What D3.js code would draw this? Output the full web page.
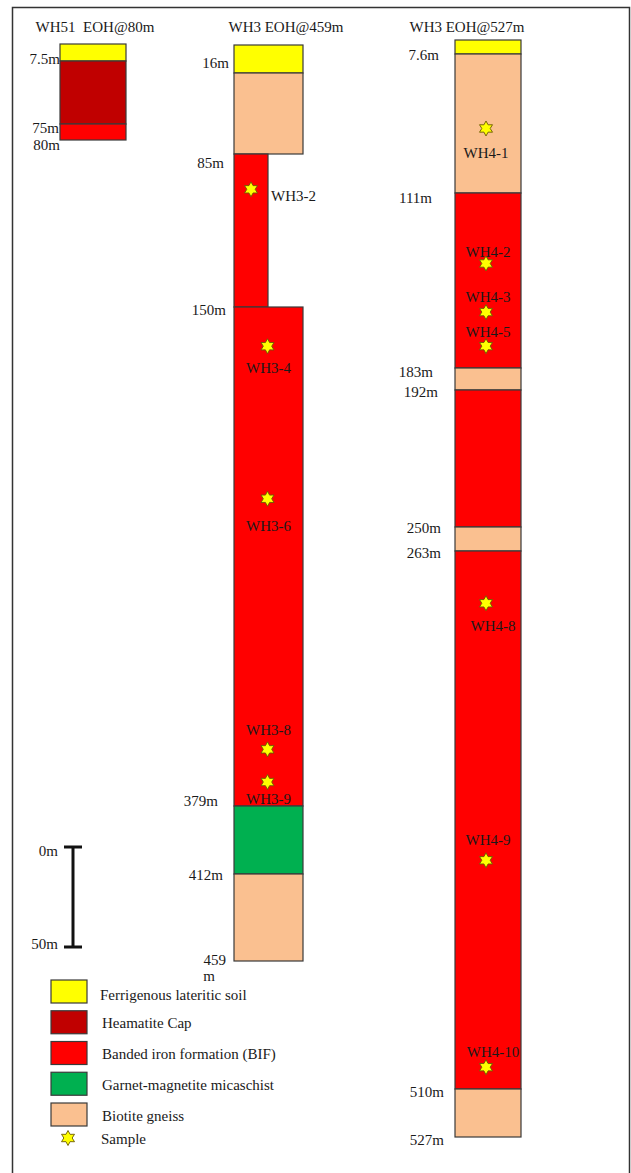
<!DOCTYPE html>
<html><head><meta charset="utf-8">
<script src="https://cdn.jsdelivr.net/npm/d3@7"></script>
<style>
body{margin:0;background:#fff}
svg{display:block}
text{font-family:"Liberation Serif","Times New Roman",serif;font-size:15px;fill:#1a1a1a;white-space:pre}
</style>
</head><body>
<svg id="c" width="631" height="1173"></svg>
<script>
// ---------------- DATA ----------------
const unitKeys  = ["soil","cap","bif","schist","gneiss"];
const unitNames = ["Ferrigenous lateritic soil","Heamatite Cap","Banded iron formation (BIF)","Garnet-magnetite micaschist","Biotite gneiss"];
const sampleLegend = "Sample";

const col1Title  = "WH51  EOH@80m";
const col1Depths = [0, 7.5, 75, 80];
const col1Units  = ["soil","cap","bif"];
const col1LabelDepths = [7.5, 75, 80];
const col1Labels = ["7.5m","75m","80m"];

const col2Title  = "WH3 EOH@459m";
const col2Depths = [0, 16, 85, 150, 379, 412, 459];
const col2Units  = ["soil","gneiss","bif","bif","schist","gneiss"];
const col2LabelDepths = [16, 85, 150, 379, 412, 459];
const col2Labels = ["16m","85m","150m","379m","412m","459"];
const col2Samples = ["WH3-2","WH3-4","WH3-6","WH3-8","WH3-9"];
const col2SampleDepths = [100, 168, 238, 353, 368];

const col3Title  = "WH3 EOH@527m";
const col3Depths = [0, 7.6, 111, 183, 192, 250, 263, 510, 527];
const col3Units  = ["soil","gneiss","bif","gneiss","bif","gneiss","bif","gneiss"];
const col3LabelDepths = [7.6, 111, 183, 192, 250, 263, 510, 527];
const col3Labels = ["7.6m","111m","183m","192m","250m","263m","510m","527m"];
const col3Samples = ["WH4-1","WH4-2","WH4-3","WH4-5","WH4-8","WH4-9","WH4-10"];
const col3SampleDepths = [63, 140, 160, 174, 287, 405, 500];

const scaleBarDepths = [0, 50];
const scaleBarLabels = ["0m","50m"];

// ---------------- STYLE / LAYOUT ----------------
const unitColor = {soil:"#FFFF00",cap:"#C00000",bif:"#FF0000",schist:"#00B050",gneiss:"#FAC090"};
const strokeCol = "#3a3a3a";

// columns are drawn not-to-scale: piecewise depth -> pixel mapping
const layout = [
  {title:col1Title, titleX:95, x0:60, x1:126, yRange:[44,61,124,140],
   depths:col1Depths, units:col1Units, narrow:[], labelDepths:col1LabelDepths, labels:col1Labels,
   labelEnd:[60,59,60], labelDy:[-2,4,5], samples:[], sampleDepths:[], sOff:[]},
  {title:col2Title, titleX:286, x0:234, x1:303, narrowX1:268, yRange:[45,73,154,307,806,874,961],
   depths:col2Depths, units:col2Units, narrow:[2], labelDepths:col2LabelDepths, labels:col2Labels,
   labelEnd:[229,224,226,218,223,226], labelDy:[-10,9,3,-5,1,-1],
   samples:col2Samples, sampleDepths:col2SampleDepths,
   sOff:[{dx:20,dy:7,a:"start"},{dx:0,dy:22,a:"middle"},{dx:0,dy:27,a:"middle"},{dx:0,dy:-19,a:"middle"},{dx:0,dy:17,a:"middle"}]},
  {title:col3Title, titleX:467, x0:455, x1:521, yRange:[40,54,193,368,390,527,551,1089,1137],
   depths:col3Depths, units:col3Units, narrow:[], labelDepths:col3LabelDepths, labels:col3Labels,
   labelEnd:[439,432,433,438,441,441,444,444], labelDy:[1,5,4,2,1,2,3,3],
   samples:col3Samples, sampleDepths:col3SampleDepths,
   sOff:[{dx:-2,dy:25,a:"middle"},{dx:0,dy:-11,a:"middle"},{dx:0,dy:-15,a:"middle"},{dx:0,dy:-14,a:"middle"},
         {dx:5,dy:23,a:"middle"},{dx:0,dy:-20,a:"middle"},{dx:5,dy:-15,a:"middle"}]}
];

const svg = d3.select("#c");

// frame
svg.append("rect").attr("x",12.5).attr("y",7.5).attr("width",617).attr("height",1170)
  .attr("fill","none").attr("stroke","#333").attr("stroke-width",1.5);

// 6-pointed star path
function hexStar(R, r){
  const pts = d3.range(12).map(i=>{
    const ang = -Math.PI/2 + i*Math.PI/6;
    const rad = i%2===0 ? R : r;
    return [rad*Math.cos(ang), rad*Math.sin(ang)];
  });
  return "M"+pts.map(p=>p[0].toFixed(2)+","+p[1].toFixed(2)).join("L")+"Z";
}
const starPath = hexStar(7.5, 4.2);

layout.forEach(col=>{
  const y = d3.scaleLinear().domain(col.depths).range(col.yRange);
  const g = svg.append("g");
  g.append("text").attr("x",col.titleX).attr("y",27).attr("text-anchor","middle")
    .attr("dominant-baseline","central").text(col.title);
  const segs = col.units.map((u,i)=>({u, top:col.depths[i], bot:col.depths[i+1], narrow:col.narrow.includes(i)}));
  g.selectAll("rect.layer").data(segs).join("rect").attr("class","layer")
    .attr("x",col.x0)
    .attr("y",d=>y(d.top))
    .attr("width",d=>(d.narrow?col.narrowX1:col.x1)-col.x0)
    .attr("height",d=>y(d.bot)-y(d.top))
    .attr("fill",d=>unitColor[d.u])
    .attr("stroke",strokeCol).attr("stroke-width",1.2);
  g.selectAll("text.dl").data(col.labels).join("text").attr("class","dl")
    .attr("x",(d,i)=>col.labelEnd[i])
    .attr("y",(d,i)=>y(col.labelDepths[i])+col.labelDy[i])
    .attr("text-anchor","end").attr("dominant-baseline","central").text(d=>d);
  const sd = col.samples.map((s,i)=>({s, d:col.sampleDepths[i], o:col.sOff[i]}));
  const cx = d => (col.x0+((col.narrowX1 && d.d<150)?col.narrowX1:col.x1))/2;
  g.selectAll("path.star").data(sd).join("path").attr("class","star")
    .attr("d",starPath)
    .attr("transform",d=>`translate(${cx(d) + (col.narrowX1? (d.d<150?0:-1):-2)},${y(d.d)})`)
    .attr("fill","#FFFF00").attr("stroke","#6b5a00").attr("stroke-width",0.9);
  g.selectAll("text.sl").data(sd).join("text").attr("class","sl")
    .attr("x",d=>cx(d) + d.o.dx)
    .attr("y",d=>y(d.d)+d.o.dy)
    .attr("text-anchor",d=>d.o.a).attr("dominant-baseline","central").text(d=>d.s);
});

// the "m" of the wrapped 459 label
svg.append("text").attr("x",209).attr("y",976).attr("text-anchor","middle")
  .attr("dominant-baseline","central").text("m");

// scale bar
const sb = d3.scaleLinear().domain(scaleBarDepths).range([847,947]);
const sbX = 73;
svg.append("line").attr("x1",sbX).attr("x2",sbX).attr("y1",sb(0)).attr("y2",sb(50))
  .attr("stroke","#111").attr("stroke-width",3);
svg.selectAll("line.cap").data(scaleBarDepths).join("line").attr("class","cap")
  .attr("x1",64).attr("x2",82).attr("y1",d=>sb(d)).attr("y2",d=>sb(d))
  .attr("stroke","#111").attr("stroke-width",3);
svg.selectAll("text.sbl").data(scaleBarLabels).join("text").attr("class","sbl")
  .attr("x",58).attr("y",(d,i)=>sb(scaleBarDepths[i])+(i===0?4:-3))
  .attr("text-anchor","end").attr("dominant-baseline","central").text(d=>d);

// legend
const lg = d3.scalePoint().domain(unitKeys).range([991.5,1114.5]);
svg.selectAll("rect.lg").data(unitKeys).join("rect").attr("class","lg")
  .attr("x",51).attr("y",d=>lg(d)-11.5).attr("width",36).attr("height",23)
  .attr("fill",d=>unitColor[d]).attr("stroke",strokeCol).attr("stroke-width",1.2);
svg.selectAll("text.lg").data(unitNames).join("text").attr("class","lg")
  .attr("x",(d,i)=>i===0?100:102).attr("y",(d,i)=>lg(unitKeys[i])+(i===0?3:1))
  .attr("dominant-baseline","central").text(d=>d);
svg.append("path").attr("d",starPath).attr("transform","translate(68,1138)")
  .attr("fill","#FFFF00").attr("stroke","#6b5a00").attr("stroke-width",0.9);
svg.append("text").attr("x",101).attr("y",1139).attr("dominant-baseline","central").text(sampleLegend);
</script>
</body></html>
